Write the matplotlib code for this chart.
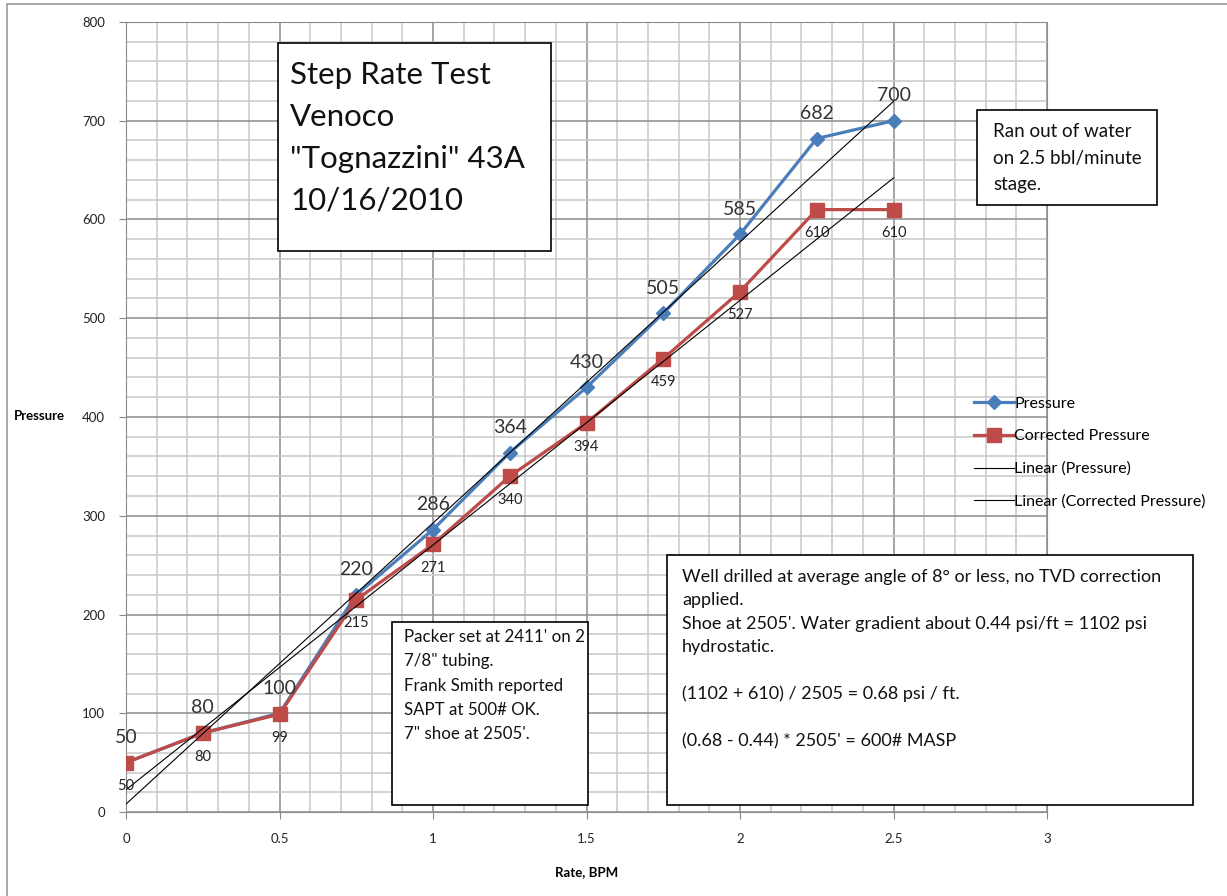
import numpy as np
import matplotlib
matplotlib.use("Agg")
import matplotlib.pyplot as plt
from matplotlib.patches import Rectangle
from matplotlib.ticker import MultipleLocator

plt.rcParams['font.family'] = ['Lato', 'DejaVu Sans']

# Step rate data
rate = [0, 0.25, 0.5, 0.75, 1.0, 1.25, 1.5, 1.75, 2.0, 2.25, 2.5]
pressure = [50, 80, 100, 220, 286, 364, 430, 505, 585, 682, 700]
corrected = [50, 80, 99, 215, 271, 340, 394, 459, 527, 610, 610]

title_text = 'Step Rate Test\nVenoco\n"Tognazzini" 43A\n10/16/2010'
water_note = "Ran out of water\non 2.5 bbl/minute\nstage."
packer_note = ("Packer set at 2411' on 2\n7/8\" tubing.\nFrank Smith reported\n"
               "SAPT at 500# OK.\n7\" shoe at 2505'.")
well_note = ("Well drilled at average angle of 8\u00b0 or less, no TVD correction\n"
             "applied.\nShoe at 2505'. Water gradient about 0.44 psi/ft = 1102 psi\n"
             "hydrostatic.\n\n(1102 + 610) / 2505 = 0.68 psi / ft.\n\n"
             "(0.68 - 0.44) * 2505' = 600# MASP")

W, H = 1227, 896
fig = plt.figure(figsize=(W / 100, H / 100), dpi=100)


def fx(px):
    return px / W


def fy(py):
    return 1 - py / H


ax = fig.add_axes([fx(126), fy(812), fx(1047) - fx(126), fy(22) - fy(812)])

blue = '#4a7ebb'
red = '#be4b48'

x = np.array(rate)
p = np.array(pressure)
c = np.array(corrected)

# trendlines
fit_p = np.polyfit(x, p, 1)
fit_c = np.polyfit(x, c, 1)

ax.plot(x, p, color=blue, lw=2.3, marker='D', ms=7, label='Pressure', zorder=4)
ax.plot(x, c, color=red, lw=2.3, marker='s', ms=10, label='Corrected Pressure', zorder=5)
ax.plot(x, np.polyval(fit_p, x), color='black', lw=0.8, label='Linear (Pressure)', zorder=6)
ax.plot(x, np.polyval(fit_c, x), color='black', lw=0.8, label='Linear (Corrected Pressure)', zorder=6)

for xi, yi in zip(x, p):
    ax.annotate(str(yi), (xi, yi), xytext=(0, 12), textcoords='offset points',
                ha='center', va='bottom', fontsize=14, color='#333333', zorder=7)
for xi, yi in zip(x, c):
    ax.annotate(str(yi), (xi, yi), xytext=(0, -12), textcoords='offset points',
                ha='center', va='top', fontsize=10.5, color='#222222', zorder=7)

ax.set_xlim(0, 3)
ax.set_ylim(0, 800)
ax.xaxis.set_major_locator(MultipleLocator(0.5))
ax.xaxis.set_minor_locator(MultipleLocator(0.1))
ax.yaxis.set_major_locator(MultipleLocator(100))
ax.yaxis.set_minor_locator(MultipleLocator(20))
ax.set_xticks([0, 0.5, 1, 1.5, 2, 2.5, 3])
ax.set_xticklabels(['0', '0.5', '1', '1.5', '2', '2.5', '3'])
ax.grid(which='minor', color='#c8c8c8', lw=1.1)
ax.grid(which='major', color='#8c8c8c', lw=1.1)
ax.set_axisbelow(True)
ax.tick_params(which='major', length=5, color='#888888', labelsize=9.5, labelcolor='#222222', pad=10)
ax.tick_params(which='minor', length=0)
for s in ax.spines.values():
    s.set_color('#8c8c8c')

ax.set_xlabel('Rate, BPM', fontsize=9.5, fontweight='bold', labelpad=15)
fig.text(fx(14), fy(416), 'Pressure', fontsize=9.5, fontweight='bold', va='center', ha='left')

fig.legend(loc='upper left', bbox_to_anchor=(fx(968), fy(390)), frameon=False,
           fontsize=11.5, handlelength=2.45, handletextpad=0.05, labelspacing=1.16,
           borderaxespad=0)


def box(x0, y0, x1, y1, text, size, tx, ty, linespacing=1.2):
    fig.add_artist(Rectangle((fx(x0), fy(y1)), fx(x1) - fx(x0), fy(y0) - fy(y1),
                             transform=fig.transFigure, facecolor='white',
                             edgecolor='black', lw=1.2, zorder=10))
    fig.text(fx(tx), fy(ty), text, fontsize=size, va='top', ha='left',
             linespacing=linespacing, zorder=11, color='#111111')


box(278, 43, 551, 251, title_text, 22.5, 290, 61, linespacing=1.6)
box(977, 110, 1157, 205, water_note, 13.5, 993, 123, linespacing=1.68)
box(392, 622, 588, 805, packer_note, 12.2, 404, 629, linespacing=1.64)
box(667, 555, 1193, 805, well_note, 13, 682, 569, linespacing=1.56)

# outer border
fig.add_artist(Rectangle((fx(7), fy(H + 10)), fx(W + 10), fy(4) - fy(H + 10),
                         transform=fig.transFigure, facecolor='none',
                         edgecolor='#999999', lw=1.2))

fig.savefig('out.png', dpi=100, facecolor='white')
